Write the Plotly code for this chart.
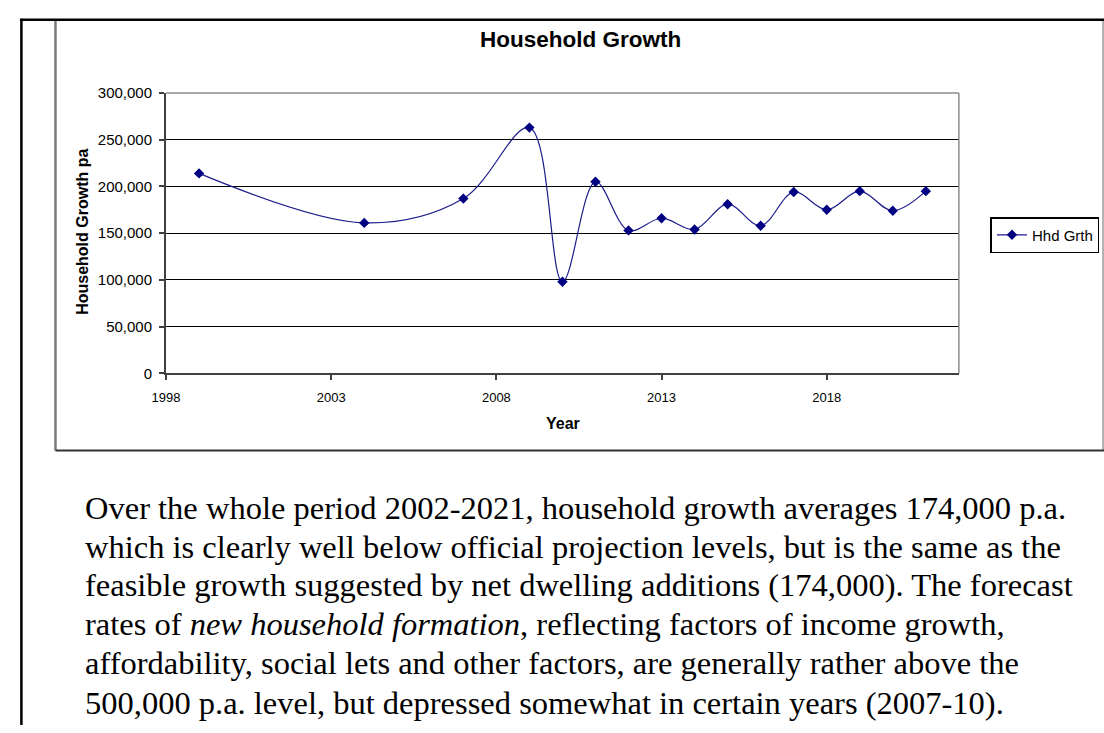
import plotly.graph_objects as go

# Household growth per annum, by year
years = [1999, 2004, 2007, 2009, 2010, 2011, 2012, 2013, 2014, 2015,
         2016, 2017, 2018, 2019, 2020, 2021]
hhd_growth = [214000, 161000, 187000, 263000, 98000, 205000, 153000, 166000,
              154000, 181000, 158000, 194000, 175000, 195000, 174000, 195000]

x_ticks = [1998, 2003, 2008, 2013, 2018]
y_ticks = [0, 50000, 100000, 150000, 200000, 250000, 300000]

chart_title = "Household Growth"
x_title = "Year"
y_title = "Household Growth pa"
series_name = "Hhd Grth"

paragraph = [
    "Over the whole period 2002-2021, household growth averages 174,000 p.a.",
    "which is clearly well below official projection levels, but is the same as the",
    "feasible growth suggested by net dwelling additions (174,000). The forecast",
    "rates of <i>new household formation</i>, reflecting factors of income growth,",
    "affordability, social lets and other factors, are generally rather above the",
    "500,000 p.a. level, but depressed somewhat in certain years (2007-10).",
]

W, H = 1104, 733


def px(x):
    return x / W


def py(y):
    return 1 - y / H


# plot area in page pixels
PL, PR, PT, PB = 154, 957, 86, 373

fig = go.Figure()
fig.add_trace(go.Scatter(
    x=years, y=hhd_growth, name=series_name, mode="lines+markers",
    line=dict(color="#1c1c8a", width=1.2, shape="spline", smoothing=1.0),
    marker=dict(symbol="diamond", size=8, color="#000080"),
))

axis_font = dict(family="Liberation Sans, Arial, sans-serif", color="#000000")

fig.update_layout(
    width=W, height=H,
    margin=dict(l=0, r=0, t=0, b=0),
    paper_bgcolor="white", plot_bgcolor="white",
    showlegend=True,
    legend=dict(
        x=px(989), y=py(213), xanchor="left", yanchor="top",
        bordercolor="#000000", borderwidth=1.5, bgcolor="white",
        font=dict(family="Liberation Sans, Arial, sans-serif", size=15, color="#000000"),
        itemwidth=30, tracegroupgap=0,
    ),
    xaxis=dict(
        domain=[px(PL), px(PR)], range=[1998, 2022],
        tickmode="array", tickvals=x_ticks, ticktext=[str(t) for t in x_ticks],
        ticks="outside", ticklen=5, tickwidth=1.5, tickcolor="#404040",
        ticklabelstandoff=6,
        showline=True, linecolor="#404040", linewidth=2,
        showgrid=False, zeroline=False,
        tickfont=dict(size=13, **axis_font),
    ),
    yaxis=dict(
        domain=[py(PB), py(PT)], range=[0, 300000],
        tickmode="array", tickvals=y_ticks, tickformat=",",
        ticks="outside", ticklen=5, tickwidth=1.5, tickcolor="#404040",
        ticklabelstandoff=4,
        showline=True, linecolor="#404040", linewidth=2,
        showgrid=True, gridcolor="#000000", gridwidth=1.3,
        zeroline=False,
        tickfont=dict(size=15, **axis_font),
    ),
)

shapes = []
# plot area border (top and right edges)
shapes.append(dict(type="line", xref="paper", yref="paper",
                   x0=px(PL), x1=px(PR), y0=py(PT), y1=py(PT),
                   line=dict(color="#8c8c8c", width=1.5), layer="above"))
shapes.append(dict(type="line", xref="paper", yref="paper",
                   x0=px(PR), x1=px(PR), y0=py(PT), y1=py(PB),
                   line=dict(color="#8c8c8c", width=1.5), layer="above"))
# chart frame
shapes.append(dict(type="line", xref="paper", yref="paper",
                   x0=px(42), x1=px(42), y0=py(11), y1=py(452),
                   line=dict(color="#7a7a7a", width=2.5)))
shapes.append(dict(type="line", xref="paper", yref="paper",
                   x0=px(1103), x1=px(1103), y0=py(11), y1=py(452),
                   line=dict(color="#9a9a9a", width=1.5)))
shapes.append(dict(type="line", xref="paper", yref="paper",
                   x0=px(42), x1=px(1104), y0=py(452), y1=py(452),
                   line=dict(color="#333333", width=2)))
# page border
shapes.append(dict(type="line", xref="paper", yref="paper",
                   x0=px(6), x1=px(1104), y0=py(11), y1=py(11),
                   line=dict(color="#000000", width=2.5)))
shapes.append(dict(type="line", xref="paper", yref="paper",
                   x0=px(7.5), x1=px(7.5), y0=py(10), y1=0,
                   line=dict(color="#000000", width=2.5)))
fig.update_layout(shapes=shapes)

annotations = [
    dict(text=f"<b>{chart_title}</b>", x=px(574), y=py(31),
         xref="paper", yref="paper", xanchor="center", yanchor="middle",
         showarrow=False,
         font=dict(family="Liberation Sans, Arial, sans-serif", size=22.5, color="#000000")),
    dict(text=f"<b>{x_title}</b>", x=px(556), y=py(424),
         xref="paper", yref="paper", xanchor="center", yanchor="middle",
         showarrow=False,
         font=dict(family="Liberation Sans, Arial, sans-serif", size=16, color="#000000")),
    dict(text=f"<b>{y_title}</b>", x=px(70), y=py(228), textangle=-90,
         xref="paper", yref="paper", xanchor="center", yanchor="middle",
         showarrow=False,
         font=dict(family="Liberation Sans, Arial, sans-serif", size=16, color="#000000")),
]

line_y = [511, 551, 590, 630, 670, 710]
for text, yy in zip(paragraph, line_y):
    annotations.append(dict(
        text=text, x=px(70), y=py(yy), xref="paper", yref="paper",
        xanchor="left", yanchor="middle", showarrow=False, align="left",
        font=dict(family="Liberation Serif, Times New Roman, serif", size=32.5, color="#000000"),
    ))
fig.update_layout(annotations=annotations)

fig.write_html("out.html", post_script="document.body.style.margin='0';")
